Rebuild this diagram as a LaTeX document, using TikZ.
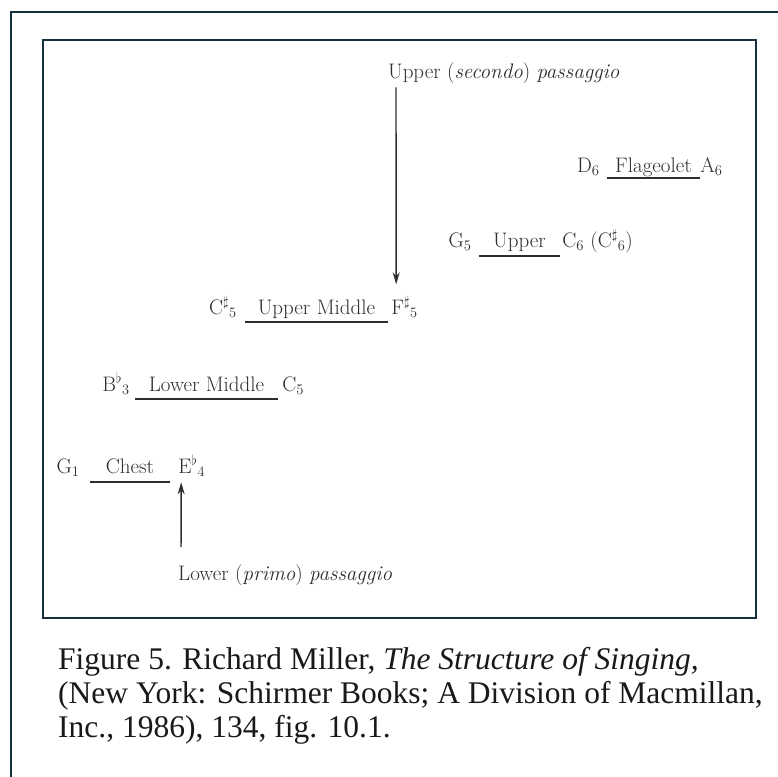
\documentclass[tikz,border=0pt]{standalone}
\usepackage{fontspec}
\usepackage{xcolor}
\newfontfamily\capfont{Liberation Serif}
\usetikzlibrary{arrows.meta, positioning}
\definecolor{framecol}{HTML}{17303E}
\definecolor{ink}{HTML}{2E2E2E}

\begin{document}
\begin{tikzpicture}[x=1pt, y=-1pt,
    note/.style={font=\fontsize{21}{24}\selectfont, text=ink, inner sep=0pt},
    register/.style={note, anchor=base},
    rule/.style={draw=ink, line width=1.5pt},
    pass/.style={-{Stealth[length=12pt,width=7pt]}, draw=ink, line width=1.4pt},
    frame/.style={draw=framecol, line width=2.8pt},
    caption/.style={font=\capfont\fontsize{31.5}{34}\selectfont, text=black!90, inner sep=0pt, align=left}
]
    \useasboundingbox (0,0) rectangle (777,777);

    % Frames
    \draw[frame] (11,790) -- (11,12) -- (790,12);
    \draw[frame] (43,40) rectangle (756,618);

    % Flageolet
    \node[register, minimum width=93] (flag) at (653.5,172) {Flageolet};
    \node[note, left=7pt of flag.base west, anchor=base east] (d6) {D\textsubscript{6}};
    \node[note, right=0pt of flag.base east, anchor=base west] (a6) {A\textsubscript{6}};
    \draw[rule] ([yshift=-6]flag.base west) -- ([yshift=-6]flag.base east);

    % Upper
    \node[register, minimum width=81] (upper) at (519.5,247) {Upper};
    \node[note, left=7pt of upper.base west, anchor=base east] (g5) {G\textsubscript{5}};
    \node[note, right=2pt of upper.base east, anchor=base west] (c6) {C\textsubscript{6} (C$^\sharp{}_6$)};
    \draw[rule] ([yshift=-9]upper.base west) -- ([yshift=-9]upper.base east);

    % Upper Middle
    \node[register, minimum width=143] (uppmid) at (316.5,314) {Upper Middle};
    \node[note, left=8pt of uppmid.base west, anchor=base east] (csharp) {C$^\sharp{}_5$};
    \node[note, right=3pt of uppmid.base east, anchor=base west] (fsharp) {F$^\sharp{}_5$};
    \draw[rule] ([yshift=-8]uppmid.base west) -- ([yshift=-8]uppmid.base east);

    % Lower Middle
    \node[register, minimum width=143] (lowmid) at (206.5,391) {Lower Middle};
    \node[note, left=5pt of lowmid.base west, anchor=base east] (bflat) {B$^\flat{}_3$};
    \node[note, right=4pt of lowmid.base east, anchor=base west] (c5) {C\textsubscript{5}};
    \draw[rule] ([yshift=-8]lowmid.base west) -- ([yshift=-8]lowmid.base east);

    % Chest
    \node[register, minimum width=80] (chest) at (130,473) {Chest};
    \node[note, left=10pt of chest.base west, anchor=base east] (g1) {G\textsubscript{1}};
    \node[note, right=8pt of chest.base east, anchor=base west] (eflat) {E$^\flat{}_4$};
    \draw[rule] ([yshift=-9]chest.base west) -- ([yshift=-9]chest.base east);

    % Passaggi
    \node[note, anchor=base west] (uppass) at (388,78) {Upper (\textit{secondo}) \textit{passaggio}};
    \node[note, anchor=base west] (lowpass) at (178,580) {Lower (\textit{primo}) \textit{passaggio}};
    \draw[pass, shorten <=4pt, shorten >=12pt] ([xshift=8]uppass.south west) -- ([xshift=5]fsharp.north west);
    \draw[pass, shorten <=17pt, shorten >=6pt] ([xshift=3]lowpass.north west) -- ([xshift=3]eflat.south west);

    % Caption
    \node[caption, anchor=north west] (cap) at (58,647) {Figure 5. Richard Miller, \textit{The Structure of Singing,}\\(New York: Schirmer Books; A Division of Macmillan,\\Inc., 1986), 134, fig. 10.1.};
\end{tikzpicture}
\end{document}
